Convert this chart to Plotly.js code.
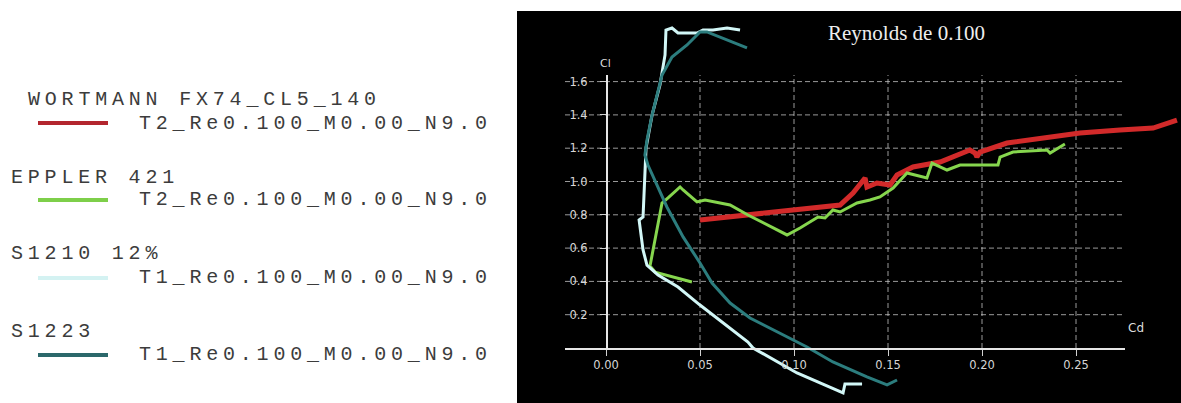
<!DOCTYPE html>
<html>
<head>
<meta charset="utf-8">
<script src="https://cdn.plot.ly/plotly-3.0.1.min.js"></script>
<style>
html,body{margin:0;padding:0;background:#ffffff;}
#chart{width:1181px;height:403px;}
</style>
</head>
<body>
<div id="chart"></div>
<script>
// ---------- data (Cd, Cl) ----------
const seriesNames = ["WORTMANN FX74_CL5_140", "EPPLER 421", "S1210 12%", "S1223"];
const runNames = ["T2_Re0.100_M0.00_N9.0", "T2_Re0.100_M0.00_N9.0", "T1_Re0.100_M0.00_N9.0", "T1_Re0.100_M0.00_N9.0"];

const wortmannCd = [0.0500,0.0819,0.0989,0.1245,0.1314,0.1362,0.1378,0.1388,0.1441,0.1511,0.1548,0.1633,0.1777,0.1936,0.1963,0.1973,0.1989,0.2133,0.2309,0.2521,0.2734,0.2910,0.3037];
const wortmannCl = [0.769,0.805,0.829,0.859,0.931,0.991,1.021,0.967,0.991,0.979,1.039,1.087,1.117,1.189,1.171,1.147,1.177,1.231,1.261,1.291,1.309,1.321,1.369];

const epplerCd = [0.0457,0.0324,0.0261,0.0234,0.0298,0.0330,0.0394,0.0410,0.0484,0.0527,0.0660,0.0755,0.0963,0.1032,0.1128,0.1165,0.1207,0.1245,0.1335,0.1404,0.1457,0.1527,0.1601,0.1707,0.1734,0.1814,0.1883,0.1973,0.2085,0.2096,0.2165,0.2346,0.2362,0.2441];
const epplerCl = [0.396,0.438,0.456,0.492,0.871,0.901,0.967,0.949,0.877,0.889,0.859,0.799,0.679,0.721,0.787,0.781,0.829,0.817,0.871,0.889,0.907,0.961,1.051,1.021,1.111,1.069,1.099,1.099,1.099,1.147,1.177,1.189,1.171,1.225];

const s1210Cd = [0.1362,0.1271,0.1261,0.1016,0.0782,0.0755,0.0500,0.0383,0.0277,0.0218,0.0197,0.0186,0.0176,0.0176,0.0197,0.0202,0.0207,0.0213,0.0245,0.0287,0.0314,0.0319,0.0351,0.0383,0.0484,0.0516,0.0569,0.0644,0.0713];
const s1210Cl = [-0.216,-0.216,-0.270,-0.150,0.000,0.036,0.258,0.366,0.438,0.498,0.589,0.679,0.739,0.769,0.787,0.949,1.129,1.201,1.399,1.580,1.760,1.910,1.922,1.892,1.892,1.910,1.910,1.922,1.910];

const s1223Cd = [0.1548,0.1495,0.1388,0.1207,0.1069,0.0910,0.0766,0.0660,0.0564,0.0500,0.0410,0.0324,0.0223,0.0207,0.0218,0.0245,0.0271,0.0298,0.0351,0.0431,0.0500,0.0537,0.0750];
const s1223Cl = [-0.192,-0.222,-0.174,-0.084,0.006,0.096,0.180,0.270,0.390,0.511,0.667,0.847,1.099,1.159,1.249,1.399,1.520,1.640,1.748,1.820,1.898,1.898,1.802];

const xTickVals = [0, 0.05, 0.10, 0.15, 0.20, 0.25];
const xTickText = ["0.00", "0.05", "0.10", "0.15", "0.20", "0.25"];
const yTickVals = [0.2, 0.4, 0.6, 0.8, 1.0, 1.2, 1.4, 1.6];
const yTickText = ["0.2", "0.4", "0.6", "0.8", "1.0", "1.2", "1.4", "1.6"];

// ---------- styles / geometry ----------
const traceColors = ["#d22a2a", "#86d64e", "#d2f7f7", "#2c7d7e"];
const traceWidths = [5, 3, 3, 3];
const legendColors = ["#b3262e", "#7ecf4a", "#d4f2f2", "#2b686b"];

const W = 1181, H = 403;
// pixel calibration of the drawing frame
const PX0 = 606, PXU = 1880, PY0 = 348, PYU = 166.5;
const cdAt = px => (px - PX0) / PXU;
const clAt = py => (PY0 - py) / PYU;
const fx = px => px / W;
const fy = py => 1 - py / H;

const xs = [wortmannCd, epplerCd, s1210Cd, s1223Cd];
const ys = [wortmannCl, epplerCl, s1210Cl, s1223Cl];

const traces = xs.map((x, i) => ({
  type: "scatter", mode: "lines", x: x, y: ys[i], name: seriesNames[i],
  line: {color: traceColors[i], width: traceWidths[i]},
  xaxis: "x", yaxis: "y", hoverinfo: "skip", showlegend: false
}));
traces.push({type: "scatter", mode: "lines", x: [], y: [], xaxis: "x2", yaxis: "y2", showlegend: false, hoverinfo: "skip"});

const shapes = [];
shapes.push({type: "rect", xref: "paper", yref: "paper", x0: fx(517), x1: 1, y0: 0, y1: fy(11),
  fillcolor: "#000000", line: {width: 0}, layer: "below"});
const gridStyle = {color: "rgba(205,205,205,0.75)", width: 1, dash: "5px,3px"};
yTickVals.forEach(v => shapes.push({type: "line", xref: "x", yref: "y", x0: cdAt(565), x1: cdAt(1125), y0: v, y1: v, line: gridStyle, layer: "below"}));
xTickVals.slice(1).forEach(v => shapes.push({type: "line", xref: "x", yref: "y", x0: v, x1: v, y0: 0, y1: clAt(75), line: gridStyle, layer: "below"}));

// legend (left panel)
const legendNameY = [99, 177, 254, 331];
const legendNameX = [27, 10, 10, 10];
const legendRunY = [123, 199, 277, 354];
const legendLineY = [123, 200, 278, 355];
const legFont = {family: "Liberation Mono, Courier New, monospace", size: 20, color: "#3c3c3c"};
const annotations = [];
seriesNames.forEach((n, i) => {
  annotations.push({xref: "paper", yref: "paper", x: fx(legendNameX[i]), y: fy(legendNameY[i]), text: n,
    showarrow: false, xanchor: "left", yanchor: "middle", align: "left", font: legFont, borderpad: 0});
  annotations.push({xref: "paper", yref: "paper", x: fx(138), y: fy(legendRunY[i]), text: runNames[i],
    showarrow: false, xanchor: "left", yanchor: "middle", align: "left", font: legFont, borderpad: 0});
  shapes.push({type: "line", xref: "paper", yref: "paper", x0: fx(38), x1: fx(108), y0: fy(legendLineY[i]), y1: fy(legendLineY[i]),
    line: {color: legendColors[i], width: 4}});
});
const nLegendAnn = annotations.length;

annotations.push({xref: "paper", yref: "paper", x: fx(906), y: fy(33), text: "Reynolds de 0.100", showarrow: false,
  xanchor: "center", yanchor: "middle", font: {family: "Liberation Serif, Times New Roman, serif", size: 21, color: "#eeeeee"}});
annotations.push({xref: "paper", yref: "paper", x: fx(605), y: fy(63), text: "Cl", showarrow: false,
  xanchor: "center", yanchor: "middle", font: {family: "DejaVu Sans", size: 11, color: "#dddddd"}});
annotations.push({xref: "paper", yref: "paper", x: fx(1136), y: fy(328), text: "Cd", showarrow: false,
  xanchor: "center", yanchor: "middle", font: {family: "DejaVu Sans", size: 12, color: "#dddddd"}});

const tickFont = {family: "DejaVu Sans", size: 11.5, color: "#d6d6d6"};
const layout = {
  width: W, height: H, margin: {l: 0, r: 0, t: 0, b: 0},
  paper_bgcolor: "#ffffff", plot_bgcolor: "rgba(0,0,0,0)", showlegend: false,
  xaxis: {domain: [fx(517), 1], range: [cdAt(517), cdAt(1181)], visible: false, fixedrange: true},
  yaxis: {domain: [0, fy(11)], range: [clAt(403), clAt(11)], visible: false, fixedrange: true},
  xaxis2: {domain: [fx(565), fx(1125)], range: [cdAt(565), cdAt(1125)], anchor: "y2",
    showgrid: false, zeroline: false, showline: true, linecolor: "#e6e6e6", linewidth: 1.5,
    ticks: "outside", ticklen: 6, tickcolor: "#d0d0d0", tickwidth: 1,
    tickmode: "array", tickvals: xTickVals, ticktext: xTickText, tickfont: tickFont, fixedrange: true},
  yaxis2: {domain: [fy(348), fy(75)], range: [0, clAt(75)], anchor: "free", position: fx(606),
    showgrid: false, zeroline: false, showline: true, linecolor: "#e6e6e6", linewidth: 1.5,
    ticks: "outside", ticklen: 6, tickcolor: "#d0d0d0", tickwidth: 1, ticklabelstandoff: 10,
    tickmode: "array", tickvals: yTickVals, ticktext: yTickText, tickfont: tickFont, fixedrange: true},
  shapes: shapes, annotations: annotations
};

Plotly.newPlot("chart", traces, layout, {displayModeBar: false, staticPlot: true}).then(() => {
  document.querySelectorAll("g.annotation").forEach(g => {
    const i = +g.getAttribute("data-index");
    if (i < nLegendAnn) {
      const t = g.querySelector("text");
      if (t) t.style.letterSpacing = "4.8px";
    }
  });
});
</script>
</body>
</html>
